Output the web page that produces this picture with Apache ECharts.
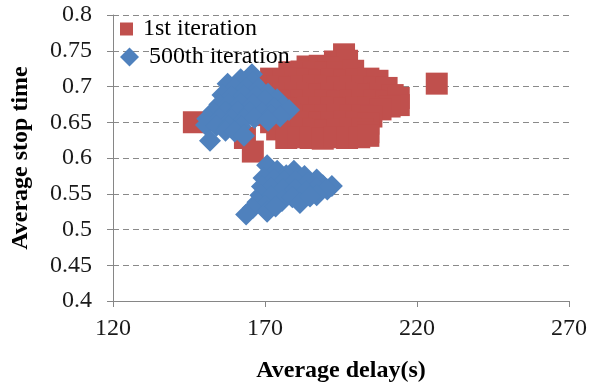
<!DOCTYPE html>
<html>
<head>
<meta charset="utf-8">
<script src="https://cdn.jsdelivr.net/npm/echarts@6/dist/echarts.min.js"></script>
<style>html,body{margin:0;padding:0;background:#fff}#c{width:590px;height:388px}</style>
</head>
<body>
<div id="c"></div>
<script>
const seriesNames = ['1st iteration', '500th iteration'];
const xTicks = [120, 170, 220, 270];
const yTicks = [0.4, 0.45, 0.5, 0.55, 0.6, 0.65, 0.7, 0.75, 0.8];

const firstIteration = [
  [196,0.745],[193,0.735],[197,0.736],
  [184,0.728],[188,0.729],[191,0.727],
  [178,0.72],[182,0.721],[186,0.72],[190,0.719],[194,0.72],[199,0.722],
  [172,0.711],[176,0.71],[180,0.711],[184,0.71],[188,0.709],[192,0.71],[196,0.709],[200,0.71],[204,0.711],[207,0.708],
  [170,0.7],[174,0.7],[178,0.699],[182,0.7],[186,0.701],[190,0.7],[194,0.699],[198,0.7],[202,0.7],[206,0.699],[210,0.698],
  [172,0.69],[176,0.69],[180,0.691],[184,0.69],[188,0.689],[192,0.69],[196,0.691],[200,0.69],[204,0.689],[208,0.69],[212,0.688],
  [170,0.68],[174,0.68],[178,0.679],[182,0.68],[186,0.681],[190,0.68],[194,0.679],[198,0.68],[202,0.681],[206,0.68],[210,0.679],[214,0.684],
  [214,0.674],[211,0.672],
  [172,0.67],[176,0.67],[180,0.669],[184,0.67],[188,0.671],[192,0.67],[196,0.669],[200,0.67],[204,0.67],[208,0.668],
  [170,0.66],[174,0.66],[178,0.661],[182,0.66],[186,0.659],[190,0.66],[194,0.661],[198,0.66],[202,0.66],[205,0.658],
  [172,0.65],[176,0.65],[180,0.651],[184,0.65],[188,0.649],[192,0.65],[196,0.651],[200,0.65],[204,0.648],
  [174,0.64],[178,0.64],[182,0.641],[186,0.64],[190,0.639],[194,0.64],[198,0.641],[202,0.64],[204,0.636],
  [177,0.628],[181,0.629],[185,0.628],[189,0.627],[193,0.629],[197,0.628],[201,0.629],[204,0.631],
  [163.4,0.628],[166,0.609],[146.6,0.65],[226.5,0.704]
];

const fiveHundredthIteration = [
  [165.7,0.717],[162,0.71],[166,0.706],[157.7,0.704],[160,0.698],[164,0.698],[168,0.697],[171,0.69],
  [156,0.688],[159,0.686],[163,0.687],[167,0.686],[174,0.682],[170,0.68],
  [155,0.675],[158,0.675],[162,0.676],[166,0.675],[176,0.672],[173,0.67],[177.9,0.667],
  [153,0.665],[157,0.664],[161,0.665],[165,0.664],[169,0.664],[172,0.66],[175,0.658],
  [151,0.655],[155,0.655],[159,0.654],[163,0.654],[166.5,0.656],[171,0.652],
  [150.6,0.646],[154,0.645],[158,0.645],[162,0.644],
  [157,0.638],[160,0.637],[163.1,0.631],[151.9,0.624],
  [170.7,0.59],[174,0.582],[179.5,0.582],[177,0.576],[183,0.575],[187,0.57],[192,0.561],[189,0.562],
  [169.5,0.572],[173,0.57],[176.5,0.568],[180,0.568],[184,0.565],[187,0.558],[190.5,0.556],
  [169,0.56],[172,0.558],[176,0.556],[180,0.556],[183.5,0.553],[187,0.548],
  [168.5,0.548],[172,0.546],[175.6,0.54],[179,0.545],[181.5,0.537],[184.8,0.546],
  [167.5,0.538],[170,0.534],[166,0.53],[163.8,0.521],[170.7,0.525],[173.5,0.532]
];

const FONT = "'Liberation Serif', 'Times New Roman', serif";
const chart = echarts.init(document.getElementById('c'), null, {renderer: 'canvas'});
chart.setOption({
  animation: false,
  backgroundColor: '#ffffff',
  textStyle: {fontFamily: FONT},
  grid: {left: 113, right: 20, top: 15, bottom: 86, containLabel: false},
  legend: [
    {data: [{name: seriesNames[0], icon: 'rect'}], left: 120, top: 17, padding: 0,
     itemWidth: 13, itemHeight: 13,
     textStyle: {fontFamily: FONT, fontSize: 24, color: '#000', padding: [0,0,0,5]}},
    {data: [{name: seriesNames[1], icon: 'diamond'}], left: 120, top: 45, padding: 0,
     itemWidth: 19, itemHeight: 19,
     textStyle: {fontFamily: FONT, fontSize: 24, color: '#000', padding: [0,0,0,5]}}
  ],
  xAxis: {
    type: 'value', min: xTicks[0], max: xTicks[xTicks.length-1], interval: 50,
    name: 'Average delay(s)', nameLocation: 'middle', nameGap: 58,
    nameTextStyle: {fontFamily: FONT, fontSize: 24, fontWeight: 'bold', color: '#000'},
    axisLine: {show: true, lineStyle: {color: '#868686', width: 1}},
    axisTick: {show: true, length: 6, lineStyle: {color: '#868686'}},
    axisLabel: {fontFamily: FONT, fontSize: 24, color: '#1a1a1a', margin: 16},
    splitLine: {show: false}
  },
  yAxis: {
    type: 'value', min: yTicks[0], max: yTicks[yTicks.length-1], interval: 0.05,
    name: 'Average stop time', nameLocation: 'middle', nameGap: 80, nameRotate: 90,
    nameTextStyle: {fontFamily: FONT, fontSize: 24, fontWeight: 'bold', color: '#000'},
    axisLine: {show: true, lineStyle: {color: '#868686', width: 1}},
    axisTick: {show: true, length: 6, lineStyle: {color: '#868686'}},
    axisLabel: {fontFamily: FONT, fontSize: 24, color: '#1a1a1a', margin: 21},
    splitLine: {show: true, lineStyle: {color: '#8a8a8a', type: [6,4], width: 1}}
  },
  series: [
    {name: seriesNames[0], type: 'scatter', symbol: 'rect', symbolSize: 22,
     itemStyle: {color: '#C0504D', opacity: 1}, data: firstIteration},
    {name: seriesNames[1], type: 'scatter', symbol: 'diamond', symbolSize: 22,
     itemStyle: {color: '#4F81BD', opacity: 1}, data: fiveHundredthIteration}
  ]
});
</script>
</body>
</html>
